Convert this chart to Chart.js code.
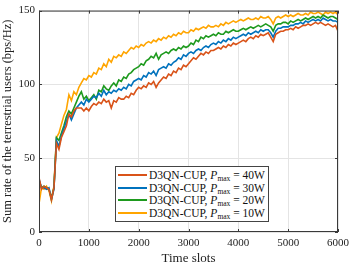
<!DOCTYPE html>
<html>
<head>
<meta charset="utf-8">
<script src="https://cdn.jsdelivr.net/npm/chart.js"></script>
<style>
  html, body { margin: 0; padding: 0; background: #fff; }
  #wrap { position: relative; width: 354px; height: 266px; }
  #legend {
    position: absolute; left: 115px; top: 166px; width: 154px; height: 56px;
    border: 1px solid #444; background: #fff;
    font-family: "Liberation Serif", "DejaVu Serif", serif; font-size: 11.5px; color: #111;
    padding: 2px 0 0 0; box-sizing: border-box;
  }
  #legend .row { display: flex; align-items: center; height: 12.5px; white-space: nowrap; }
  #legend .swatch { width: 29px; height: 2px; margin: 0 2px 0 2px; flex: none; }
  #legend sub { font-size: 7.5px; vertical-align: -2px; line-height: 0; }
</style>
</head>
<body>
<div id="wrap">
  <canvas id="c" width="354" height="266"></canvas>
  <div id="legend"></div>
</div>
<script>
// time slots, one sample every 50 slots
const timeSlots = Array.from({ length: 121 }, (_, i) => i * 50);

const xTicks = [0, 1000, 2000, 3000, 4000, 5000, 6000];
const yTicks = [0, 50, 100, 150];

const labels = ['40W', '30W', '20W', '10W'];
const colors = ['#D95319', '#0072BD', '#1E9A1E', '#FFA500'];

const rate40 = [
  37,29,31,30,29,22,30,60,56,64,
  68,72,80,78,82,84,84,84,82,84,
  82,85,87,86,88,87,90,88,89,84,
  89,88,91,90,90,92,91,94,93,96,
  98,97,99,98,101,100,102,98,101,103,
  105,104,107,106,109,108,111,110,113,112,
  114,116,118,117,119,121,120,122,121,123,
  123,124,125,124,126,125,127,126,128,127,
  128,129,130,129,131,132,131,133,132,134,
  133,134,135,132,129,134,135,136,136,137,
  137,138,137,139,138,139,140,140,141,140,
  141,142,141,142,141,140,141,140,139,140,
  136
];
const rate30 = [
  36,30,30,29,30,22,29,62,58,65,
  70,75,80,76,80,84,86,88,86,90,
  88,90,92,91,94,92,96,93,95,94,
  96,95,97,96,98,97,100,99,102,103,
  104,103,106,105,108,107,109,106,110,111,
  112,111,114,113,115,116,118,117,120,119,
  121,122,121,123,124,123,125,126,125,127,
  128,127,129,128,130,129,131,130,132,131,
  132,133,134,133,135,134,135,136,135,137,
  136,137,137,135,132,136,138,138,139,139,
  139,140,140,141,141,142,141,143,142,143,
  144,143,144,143,145,144,143,144,143,143,
  142
];
const rate20 = [
  35,30,31,30,29,23,30,64,62,67,
  72,78,82,80,84,88,92,95,90,92,
  89,91,93,90,96,95,99,97,96,99,
  101,99,103,102,105,104,107,108,110,111,
  112,114,113,116,117,119,118,121,117,120,
  121,122,121,123,124,123,125,124,126,125,
  126,128,127,130,129,132,131,133,132,133,
  134,133,135,134,134,136,135,136,137,136,
  136,137,138,137,138,139,138,139,140,139,
  140,141,140,139,136,140,141,141,142,142,
  141,143,142,143,144,143,144,145,144,145,
  146,145,146,145,147,146,145,146,146,145,
  144
];
const rate10 = [
  19,30,29,31,28,21,31,64,67,73,
  79,83,93,89,95,93,98,101,104,103,
  106,105,108,107,111,110,114,112,117,115,
  119,118,120,119,122,121,123,125,124,126,
  125,127,126,128,129,128,130,129,131,130,
  132,131,133,132,134,133,135,134,136,135,
  135,137,136,138,137,138,139,138,140,139,
  139,140,139,141,140,142,141,142,143,142,
  143,144,143,144,145,144,144,145,144,146,
  145,145,146,144,141,145,146,145,146,147,
  146,147,146,147,148,147,147,148,147,149,
  148,148,149,148,147,149,148,149,148,149,
  147
];

const series = [rate40, rate30, rate20, rate10];

const serif = '"Liberation Serif", "DejaVu Serif", serif';

// frame + inward ticks, MATLAB style
const framePlugin = {
  id: 'frame',
  afterDraw(chart) {
    const { ctx, chartArea: a, scales } = chart;
    ctx.save();
    ctx.strokeStyle = '#3a3a3a';
    ctx.lineWidth = 1;
    ctx.strokeRect(a.left + 0.5, a.top + 0.5, a.right - a.left - 1, a.bottom - a.top - 1);
    ctx.beginPath();
    xTicks.forEach(v => {
      const px = Math.round(scales.x.getPixelForValue(v)) + 0.5;
      ctx.moveTo(px, a.bottom); ctx.lineTo(px, a.bottom - 3);
      ctx.moveTo(px, a.top); ctx.lineTo(px, a.top + 3);
    });
    yTicks.forEach(v => {
      const py = Math.round(scales.y.getPixelForValue(v)) + 0.5;
      ctx.moveTo(a.left, py); ctx.lineTo(a.left + 3, py);
      ctx.moveTo(a.right, py); ctx.lineTo(a.right - 3, py);
    });
    ctx.stroke();
    ctx.restore();
  }
};

new Chart(document.getElementById('c').getContext('2d'), {
  type: 'line',
  data: {
    labels: timeSlots,
    datasets: series.map((d, i) => ({
      label: 'D3QN-CUP, Pmax = ' + labels[i],
      data: d.map((v, k) => ({ x: timeSlots[k], y: v })),
      borderColor: colors[i],
      borderWidth: 1.6,
      pointRadius: 0,
      tension: 0,
      fill: false
    }))
  },
  options: {
    responsive: false,
    animation: false,
    layout: { padding: { top: 0, right: 11, left: 0, bottom: 0 } },
    plugins: { legend: { display: false }, tooltip: { enabled: false } },
    scales: {
      x: {
        type: 'linear', min: 0, max: 6000,
        afterBuildTicks: s => { s.ticks = xTicks.map(v => ({ value: v })); },
        afterFit: s => { s.height = 34; },
        grid: { color: '#e4e4e4', drawTicks: false },
        border: { display: false },
        ticks: { font: { family: serif, size: 11 }, color: '#222', padding: 5, maxRotation: 0, callback: v => String(v) },
        title: { display: true, text: 'Time slots', font: { family: serif, size: 13 }, color: '#222', padding: { top: 0, bottom: 0 } }
      },
      y: {
        min: 0, max: 150,
        afterBuildTicks: s => { s.ticks = yTicks.map(v => ({ value: v })); },
        afterFit: s => { s.width = 39; },
        grid: { color: '#e4e4e4', drawTicks: false },
        border: { display: false },
        ticks: { font: { family: serif, size: 11 }, color: '#222', padding: 4, callback: v => String(v) },
        title: { display: true, text: 'Sum rate of the terrestrial users (bps/Hz)', font: { family: serif, size: 12.5 }, color: '#222', padding: { top: 0, bottom: 0 } }
      }
    }
  },
  plugins: [framePlugin]
});

// legend inside the axes, lower right
const legend = document.getElementById('legend');
labels.forEach((lab, i) => {
  const row = document.createElement('div');
  row.className = 'row';
  row.innerHTML = `<span class="swatch" style="background:${colors[i]}"></span>` +
    `<span>D3QN-CUP, <i>P</i><sub>max</sub> = ${lab}</span>`;
  legend.appendChild(row);
});
</script>
</body>
</html>
